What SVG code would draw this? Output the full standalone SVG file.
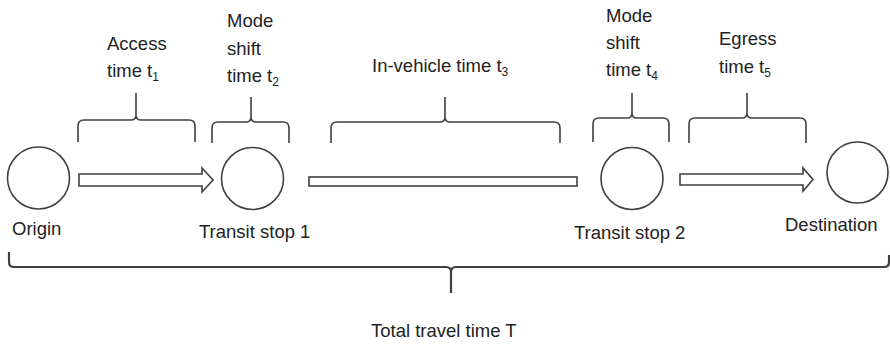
<svg xmlns="http://www.w3.org/2000/svg" width="890" height="344" viewBox="0 0 890 344">
  <style>
    .node { fill: #ffffff; stroke: #404040; stroke-width: 1.6; }
    .brace { fill: none; stroke: #404040; stroke-width: 1.6; stroke-linejoin: round; }
    .brace-total { fill: none; stroke: #404040; stroke-width: 2.2; stroke-linejoin: round; }
    .link { fill: #ffffff; stroke: #404040; stroke-width: 1.6; stroke-linejoin: miter; }
    .label { font-family: "Liberation Sans", Arial, sans-serif; font-size: 18.5px; fill: #222222; }
    .sub { font-size: 12px; }
  </style>
  <rect width="890" height="344" fill="#ffffff"/>

  <!-- stops along the trip -->
  <g id="origin">
    <circle class="node" cx="38.5" cy="178" r="31"/>
    <text class="label" x="12" y="235">Origin</text>
  </g>
  <g id="transit-stop-1">
    <circle class="node" cx="252.5" cy="178.5" r="31"/>
    <text class="label" x="199" y="238">Transit stop 1</text>
  </g>
  <g id="transit-stop-2">
    <circle class="node" cx="632" cy="178.5" r="31"/>
    <text class="label" x="574" y="239">Transit stop 2</text>
  </g>
  <g id="destination">
    <circle class="node" cx="857.5" cy="172.5" r="30.5"/>
    <text class="label" x="785" y="231">Destination</text>
  </g>

  <!-- legs between stops -->
  <g id="connectors">
    <polygon class="link" points="79,174 202,174 202,168 213,180 202,192 202,186 79,186"/>
    <rect class="link" x="309" y="177" width="268" height="9"/>
    <polygon class="link" points="680,174 803,174 803,168 813,179.5 803,191 803,185 680,185"/>
  </g>

  <!-- time components -->
  <g id="access-time">
    <path class="brace" d="M78,142 L78,126 Q78,120 84,120 L131,120 Q136,120 136,115 L136,93 M136,115 Q136,120 141,120 L189,120 Q195,120 195,126 L195,142"/>
    <text class="label" x="107" y="50">Access</text>
    <text class="label" x="107" y="77">time t<tspan class="sub" dy="4">1</tspan></text>
  </g>
  <g id="mode-shift-time-1">
    <path class="brace" d="M212,143 L212,128 Q212,122 218,122 L246,122 Q251,122 251,117 L251,97 M251,117 Q251,122 256,122 L283,122 Q289,122 289,128 L289,143"/>
    <text class="label" x="227" y="27">Mode</text>
    <text class="label" x="227" y="55">shift</text>
    <text class="label" x="227" y="82">time t<tspan class="sub" dy="4">2</tspan></text>
  </g>
  <g id="in-vehicle-time">
    <path class="brace" d="M331,143 L331,128 Q331,122 337,122 L440,122 Q445,122 445,117 L445,97 M445,117 Q445,122 450,122 L554,122 Q560,122 560,128 L560,143"/>
    <text class="label" x="372" y="72">In-vehicle time t<tspan class="sub" dy="4">3</tspan></text>
  </g>
  <g id="mode-shift-time-2">
    <path class="brace" d="M593,142 L593,124 Q593,118 599,118 L627,118 Q632,118 632,113 L632,93 M632,113 Q632,118 637,118 L663,118 Q669,118 669,124 L669,142"/>
    <text class="label" x="606" y="22">Mode</text>
    <text class="label" x="606" y="49">shift</text>
    <text class="label" x="606" y="76">time t<tspan class="sub" dy="4">4</tspan></text>
  </g>
  <g id="egress-time">
    <path class="brace" d="M689,143 L689,124 Q689,118 695,118 L742,118 Q747,118 747,113 L747,93 M747,113 Q747,118 752,118 L800,118 Q806,118 806,124 L806,143"/>
    <text class="label" x="719" y="45">Egress</text>
    <text class="label" x="719" y="73">time t<tspan class="sub" dy="4">5</tspan></text>
  </g>

  <!-- whole journey -->
  <g id="total-travel-time">
    <path class="brace-total" d="M9,252 L9,262 Q9,267 14,267 L446,267 Q451,267 451,272 L451,293 M451,272 Q451,267 456,267 L884,267 Q889,267 889,262 L889,255"/>
    <text class="label" x="371" y="337">Total travel time T</text>
  </g>
</svg>
